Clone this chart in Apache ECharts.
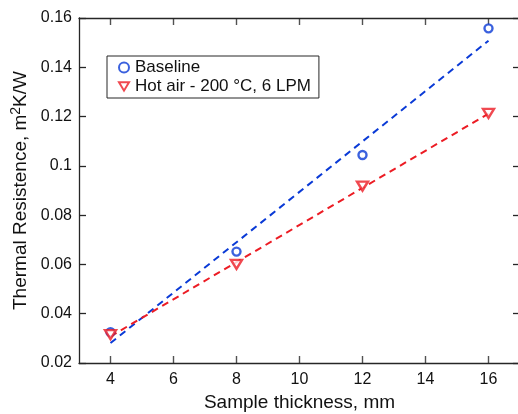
<!DOCTYPE html>
<html>
<head>
<meta charset="utf-8">
<script src="https://cdn.jsdelivr.net/npm/echarts@6/dist/echarts.min.js"></script>
<style>
html,body{margin:0;padding:0;background:#fff;}
#chart{width:518px;height:414px;}
</style>
</head>
<body>
<div id="chart"></div>
<script>
const thickness = [4, 8, 12, 16];
const baseline = [0.0325, 0.0652, 0.1044, 0.1558];
const hotAir = [0.0315, 0.0600, 0.0918, 0.1213];
const fitX = [4, 16];
const baselineFit = [0.0281, 0.1508];
const hotAirFit = [0.0308, 0.1212];
const xTicks = [4, 6, 8, 10, 12, 14, 16];
const yTicks = [0.02, 0.04, 0.06, 0.08, 0.1, 0.12, 0.14, 0.16];
const yTickLabels = ['0.02', '0.04', '0.06', '0.08', '0.1', '0.12', '0.14', '0.16'];
const seriesNames = ['Baseline', 'Hot air - 200 \u00B0C, 6 LPM'];

const BLUE = '#0a3ad6';
const RED = '#ec1c24';
const AX = '#262626';
const FONT = 'Liberation Sans, Arial, sans-serif';
const TICK = 7;

function pairs(xs, ys) { return xs.map((x, i) => [x, ys[i]]); }
function yLabel(v) {
  let best = 0;
  for (let i = 1; i < yTicks.length; i++) if (Math.abs(yTicks[i] - v) < Math.abs(yTicks[best] - v)) best = i;
  return yTickLabels[best];
}
const triDown = 'path://M0,0L12,0L6,10Z';
const yMin = yTicks[0], yMax = yTicks[yTicks.length - 1];

const chart = echarts.init(document.getElementById('chart'), null, {renderer: 'canvas'});
const axisCommon = {
  axisLine: {show: true, onZero: false, lineStyle: {color: AX, width: 1.3}},
  axisTick: {show: true, inside: true, length: TICK, lineStyle: {color: AX, width: 1.3}},
  splitLine: {show: false}
};
function tickSeries(yv, dir) {
  return {
    type: 'scatter', silent: true, clip: false, z: 1,
    data: xTicks.map(x => [x, yv]),
    symbol: 'rect', symbolSize: [1.4, TICK], symbolOffset: [0, dir * TICK / 2],
    itemStyle: {color: AX}
  };
}
chart.setOption({
  animation: false,
  backgroundColor: '#fff',
  textStyle: {fontFamily: FONT},
  grid: {left: 79, top: 18, width: 441, height: 345, containLabel: false, outerBoundsMode: 'none'},
  legend: {
    data: seriesNames,
    orient: 'vertical',
    left: 107, top: 56,
    padding: [3, 8, 3, 11],
    itemGap: 2,
    itemWidth: 10, itemHeight: 10,
    borderColor: AX, borderWidth: 1,
    backgroundColor: '#fff',
    textStyle: {fontSize: 17, color: '#111', fontFamily: FONT, lineHeight: 17, padding: [0, 0, 0, 1]}
  },
  xAxis: [
    Object.assign({}, axisCommon, {
      type: 'value', min: 3, max: 17, position: 'bottom',
      name: 'Sample thickness, mm', nameLocation: 'middle', nameGap: 30,
      nameTextStyle: {fontSize: 19, color: '#111', fontFamily: FONT},
      axisTick: {show: false},
      axisLabel: {customValues: xTicks, fontSize: 16, color: '#111', margin: 9, fontFamily: FONT}
    }),
    Object.assign({}, axisCommon, {
      type: 'value', min: 3, max: 17, position: 'top',
      axisTick: {show: false},
      axisLabel: {show: false}
    })
  ],
  yAxis: [
    Object.assign({}, axisCommon, {
      type: 'value', min: yMin, max: yMax, interval: 0.02, position: 'left',
      name: '{a|Thermal Resistence, m}{s|2}{a|K/W}', nameLocation: 'middle', nameGap: 46, nameRotate: 90,
      nameTextStyle: {
        color: '#111', fontFamily: FONT,
        rich: {
          a: {fontSize: 19, color: '#111', fontFamily: FONT, lineHeight: 22},
          s: {fontSize: 14, color: '#111', fontFamily: FONT, lineHeight: 12, verticalAlign: 'top'}
        }
      },
      axisLabel: {fontSize: 16, color: '#111', margin: 7, fontFamily: FONT, formatter: yLabel}
    }),
    Object.assign({}, axisCommon, {
      type: 'value', min: yMin, max: yMax, interval: 0.02, position: 'right',
      axisLabel: {show: false}
    })
  ],
  series: [
    tickSeries(yMin, -1),
    tickSeries(yMax, 1),
    {
      name: 'BaselineFit', type: 'line', data: pairs(fitX, baselineFit),
      symbol: 'none', lineStyle: {color: BLUE, width: 2, type: [7, 5]}, z: 2, silent: true
    },
    {
      name: 'HotAirFit', type: 'line', data: pairs(fitX, hotAirFit),
      symbol: 'none', lineStyle: {color: RED, width: 2, type: [7, 5]}, z: 2, silent: true
    },
    {
      name: seriesNames[0], type: 'scatter', data: pairs(thickness, baseline),
      symbol: 'circle', symbolSize: 8,
      itemStyle: {color: '#fff', borderColor: BLUE, borderWidth: 2.4}, z: 3
    },
    {
      name: seriesNames[1], type: 'scatter', data: pairs(thickness, hotAir),
      symbol: triDown, symbolSize: [11, 9],
      itemStyle: {color: '#fff', borderColor: RED, borderWidth: 2.4}, z: 3
    }
  ]
});
</script>
</body>
</html>
